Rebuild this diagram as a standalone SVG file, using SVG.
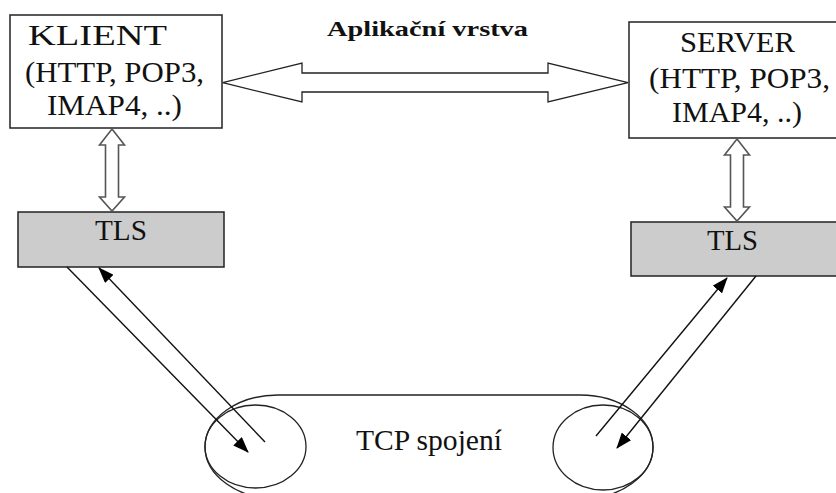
<svg xmlns="http://www.w3.org/2000/svg" width="836" height="493" viewBox="0 0 836 493">
<style>
.box{fill:#fff;stroke:#222;stroke-width:1.5}
.tls{fill:#cccccc;stroke:#222;stroke-width:1.5}
text{font-family:'Liberation Serif','DejaVu Serif','Times New Roman',serif;fill:#111}
.t{font-size:30px}
.tb{font-size:21px;font-weight:bold}
.dbl{fill:#fff;stroke:#222;stroke-width:1.3}
.vdbl{fill:#fff;stroke:#555;stroke-width:1.6}
.ln{stroke:#111;stroke-width:1.4;fill:none}
.pipe{fill:none;stroke:#222;stroke-width:1.3}
</style>
<defs>
<marker id="ah" viewBox="0 0 16 12" refX="15" refY="6" markerWidth="16" markerHeight="12" markerUnits="userSpaceOnUse" orient="auto">
<path d="M0,0 L16,6 L0,12 Z" fill="#000"/>
</marker>
</defs>
<rect width="836" height="493" fill="#fff"/>
<g id="tcp">
<path class="pipe" d="M278,395 H580 A73,52 0 0 1 653,447 A73,52 0 0 1 580,499 H278 A73,52 0 0 1 205,447 A73,52 0 0 1 278,395 Z"/>
<ellipse class="pipe" cx="255.5" cy="446.5" rx="50.5" ry="41.5"/>
<ellipse class="pipe" cx="603" cy="447.5" rx="50" ry="42.5"/>
<text class="t" x="356" y="450" textLength="146" lengthAdjust="spacingAndGlyphs">TCP spojení</text>
</g>
<g id="klient">
<rect class="box" x="10" y="15" width="212" height="113"/>
<text class="t" x="28" y="45" textLength="139" lengthAdjust="spacingAndGlyphs">KLIENT</text>
<text class="t" x="25" y="82" textLength="179" lengthAdjust="spacingAndGlyphs">(HTTP, POP3,</text>
<text class="t" x="47" y="115" textLength="135" lengthAdjust="spacingAndGlyphs">IMAP4, ..)</text>
</g>
<g id="server">
<rect class="box" x="629" y="22" width="220" height="116"/>
<text class="t" x="680" y="52" textLength="115" lengthAdjust="spacingAndGlyphs">SERVER</text>
<text class="t" x="649" y="88" textLength="181" lengthAdjust="spacingAndGlyphs">(HTTP, POP3,</text>
<text class="t" x="672" y="122" textLength="130" lengthAdjust="spacingAndGlyphs">IMAP4, ..)</text>
</g>
<g id="tls-klient">
<rect class="tls" x="18" y="212" width="206" height="55"/>
<text class="t" x="95" y="240" textLength="52" lengthAdjust="spacingAndGlyphs">TLS</text>
</g>
<g id="tls-server">
<rect class="tls" x="631" y="222" width="220" height="54"/>
<text class="t" x="707" y="250" textLength="51" lengthAdjust="spacingAndGlyphs">TLS</text>
</g>
<g id="label-aplikacni">
<text class="tb" x="327" y="36" textLength="201" lengthAdjust="spacingAndGlyphs">Aplikační vrstva</text>
</g>
<g id="connectors">
<polygon class="dbl" points="222.7,82.7 302,63 302,73 548,73 548,63 628,82.7 548,102 548,92 302,92 302,102"/>
<polygon class="vdbl" points="112,129 124.5,145 118.5,145 118.5,197 124.5,197 112,211 99.5,197 105.5,197 105.5,145 99.5,145"/>
<polygon class="vdbl" points="737,139 749.5,155 743.5,155 743.5,207 749.5,207 737,221 724.5,207 730.5,207 730.5,155 724.5,155"/>
<line class="ln" x1="67" y1="267" x2="248" y2="452" marker-end="url(#ah)"/>
<line class="ln" x1="265" y1="442" x2="99" y2="268" marker-end="url(#ah)"/>
<line class="ln" x1="596" y1="436" x2="727" y2="278" marker-end="url(#ah)"/>
<line class="ln" x1="756" y1="276" x2="617" y2="448" marker-end="url(#ah)"/>
</g>
</svg>
